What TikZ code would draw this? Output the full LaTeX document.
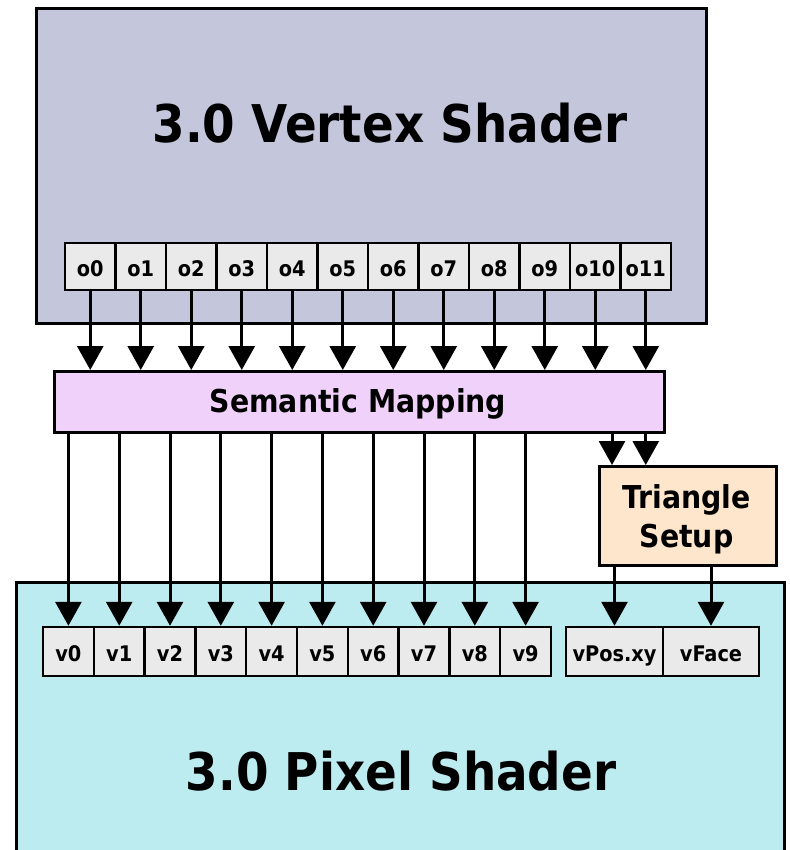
\documentclass[tikz,border=0pt]{standalone}
\usepackage{fontspec}
\setmainfont{DejaVu Sans Condensed}
\usetikzlibrary{arrows.meta,calc}
\definecolor{vsfill}{HTML}{C4C6DC}
\definecolor{psfill}{HTML}{BCEBF0}
\definecolor{semfill}{HTML}{F0D1FA}
\definecolor{trifill}{HTML}{FDE6CC}
\definecolor{cellgray}{HTML}{EAEAEA}
\begin{document}
\begin{tikzpicture}[x=1pt,y=-1pt,
  box/.style={draw=black, line width=3pt, inner sep=0pt},
  cellbox/.style={draw=black, line width=2.5pt, fill=cellgray, inner sep=0pt,
     text height=19pt, text depth=0pt, font=\fontsize{21.5}{21.5}\selectfont\bfseries},
  ocell/.style={cellbox, minimum width=50.5pt, minimum height=47pt},
  vcell/.style={cellbox, minimum height=49pt},
  arr/.style={line width=3pt, -{Triangle[width=26pt,length=24pt]}},
  title/.style={font=\fontsize{52}{52}\selectfont\bfseries, anchor=base, inner sep=0pt},
  midtext/.style={font=\fontsize{31.5}{31.5}\selectfont\bfseries, anchor=base, inner sep=0pt}]
\useasboundingbox[fill=white] (0,0) rectangle (789,850);
% Vertex shader
\node[box, fill=vsfill, minimum width=670pt, minimum height=315pt, anchor=north west] (vs) at (35,7) {};
\node[title] (vstitle) at (390,143) {3.0 Vertex Shader};
% Pixel shader (bottom edge outside the picture)
\fill[psfill] (16,582) rectangle (784,850);
\draw[line width=3pt] (16,852) -- (16,582) -- (784,582) -- (784,852);
\node[title] (pstitle) at (401,790) {3.0 Pixel Shader};
% Semantic mapping
\node[box, fill=semfill, minimum width=610pt, minimum height=61pt, anchor=north west] (sem) at (53,370) {};
\node[midtext] (semtext) at (358,412) {Semantic Mapping};
% Triangle setup
\node[box, fill=trifill, minimum width=177pt, minimum height=99pt, anchor=north west] (tri) at (598,465) {};
\node[midtext] (trit1) at (686.5,508) {Triangle};
\node[midtext] (trit2) at (686.5,547) {Setup};
% output registers
\foreach \i in {0,...,11} {
  \node[ocell] (o\i) at ({65+50.5*\i+25.25},266.5) {o\i};
}
% input registers
\foreach \i in {0,...,9} {
  \node[vcell, minimum width=50.8pt] (v\i) at ({43+50.8*\i+25.4},651.5) {v\i};
}
\node[vcell, minimum width=97pt] (vpos) at (614.5,651.5) {vPos.xy};
\node[vcell, minimum width=96pt] (vface) at (711,651.5) {vFace};
% connectors
\foreach \i in {0,...,11} {
  \draw[arr] (o\i.south) -- (o\i.south |- sem.north);
}
\foreach \i in {0,...,9} {
  \draw[arr] (v\i.north |- sem.south) -- (v\i.north);
}
\draw[arr] ([xshift=14pt]tri.north west |- sem.south) -- ([xshift=14pt]tri.north west);
\draw[arr] (o11.south |- sem.south) -- (o11.south |- tri.north);
\draw[arr] (vpos.north |- tri.south) -- (vpos.north);
\draw[arr] (vface.north |- tri.south) -- (vface.north);
\end{tikzpicture}
\end{document}
